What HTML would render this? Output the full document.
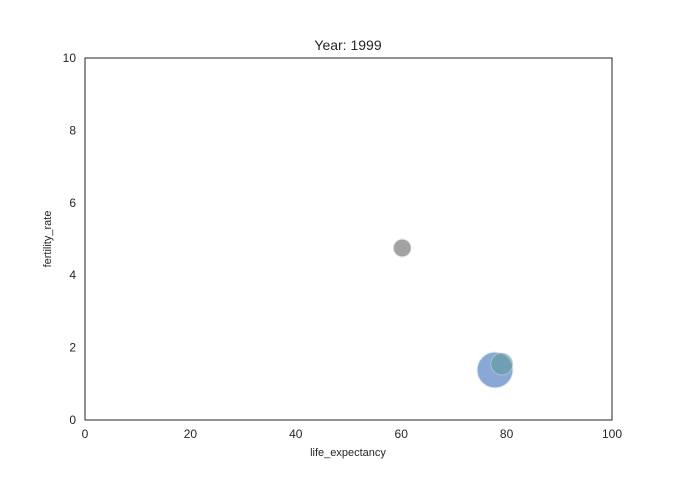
<!DOCTYPE html>
<html><head><meta charset="utf-8"><style>
body{margin:0;background:#fff}
svg text{font-family:"Liberation Sans","DejaVu Sans",sans-serif;fill:#262626}
</style></head><body>
<svg id="chart" width="680" height="480">
<rect width="680" height="480" fill="#fff"/>
<text x="348" y="50" text-anchor="middle" font-size="14">Year: 1999</text>
<g id="axes"></g>
<g id="marks"></g>
<rect x="85" y="58" width="527" height="362" fill="none" stroke="#262626" stroke-width="1"/>
<text x="348" y="456" text-anchor="middle" font-size="11">life_expectancy</text>
<text transform="translate(51,239) rotate(-90)" text-anchor="middle" font-size="11">fertility_rate</text>
</svg>
<script>
const lifeExpectancy=[60.2,77.8,79.1];
const fertilityRate=[4.75,1.38,1.55];
const bubbleSizes=[9,18,11];
const bubbleColors=['#999999','#7b9fd0','#5f9a9a'];
const xTicks=[0,20,40,60,80,100];
const yTicks=[0,2,4,6,8,10];
const x=v=>85+v/100*527;
const y=v=>420-v/10*362;
const NS='http://www.w3.org/2000/svg';
const axes=document.getElementById('axes'),marks=document.getElementById('marks');
xTicks.forEach(t=>{
const el=document.createElementNS(NS,'text');
el.setAttribute('x',x(t));el.setAttribute('y',438);el.setAttribute('text-anchor','middle');el.setAttribute('font-size','12');
el.textContent=t;


axes.appendChild(el);
});
yTicks.forEach(t=>{
const el=document.createElementNS(NS,'text');
el.setAttribute('x',76);el.setAttribute('y',y(t)+4);el.setAttribute('text-anchor','end');el.setAttribute('font-size','12');
el.textContent=t;


axes.appendChild(el);
});
lifeExpectancy.forEach((v,i)=>{
const c=document.createElementNS(NS,'circle');
c.setAttribute('cx',x(v));c.setAttribute('cy',y(fertilityRate[i]));c.setAttribute('r',bubbleSizes[i]);
c.setAttribute('fill',bubbleColors[i]);c.setAttribute('fill-opacity',i===2?0.6:0.9);
c.setAttribute('stroke','#eeeeee');c.setAttribute('stroke-width','1');c.setAttribute('stroke-opacity',i===2?0.4:1);


marks.appendChild(c);
});
</script>
</body></html>
